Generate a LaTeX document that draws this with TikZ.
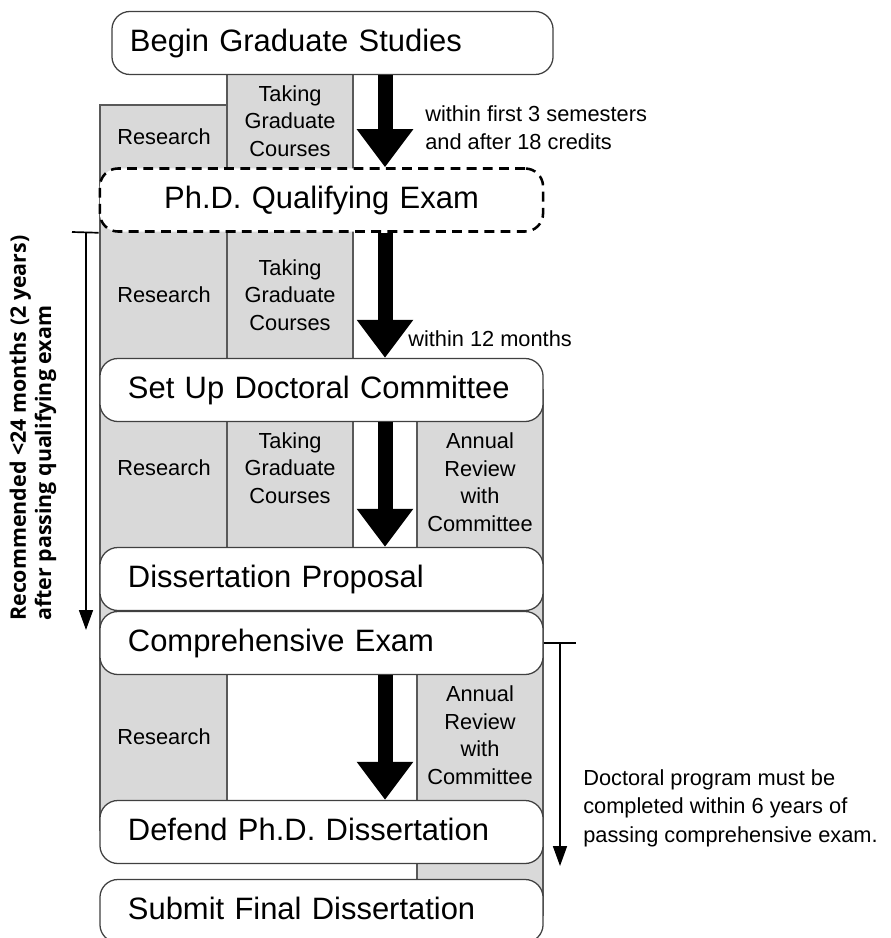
\documentclass[tikz,border=0pt]{standalone}
\usepackage{fontspec}
\setmainfont{Liberation Sans}
\newfontfamily\sidefont{Open Sans}
\usepackage{tikz}
\usetikzlibrary{calc, arrows.meta, positioning}

\definecolor{colfill}{gray}{0.85}
\definecolor{colline}{gray}{0.35}
\tikzset{
  stage/.style={draw=black!75, line width=0.9pt, fill=white, rounded corners=0.45cm,
    minimum height=1.575cm, text width=9.675cm, inner xsep=0.7cm, align=left,
    text height=16pt, text depth=4.5pt, font=\fontsize{22}{26}\selectfont},
  column/.style={fill=colfill, draw=colline, line width=0.8pt},
  task/.style={align=center, font=\fontsize{15.5}{19.6}\selectfont},
  note/.style={align=left, inner sep=0pt, font=\fontsize{15.5}{20.2}\selectfont},
  flow/.style={line width=0.375cm, -{Triangle[width=1.35cm, length=0.95cm]}},
  span/.style={line width=1.2pt, -{Triangle[width=0.35cm, length=0.5cm]}},
}

\begin{document}
\begin{tikzpicture}[x=0.025cm, y=-0.025cm]
         \useasboundingbox (0,0) rectangle (891,938);
         \clip (0,0) rectangle (891,938);
         % activity columns behind the stages
         \draw[column] (100,105) rectangle (227,830);
         \draw[column] (227,60) rectangle (353,580);
         \draw[column] (417,390) rectangle (543,915);
         \node[task] (res1) at (164,137) {Research};
         \node[task] (crs1) at (290,121) {Taking\\Graduate\\Courses};
         \node[task] (res2) at (164,295) {Research};
         \node[task] (crs2) at (290,295) {Taking\\Graduate\\Courses};
         \node[task] (res3) at (164,468) {Research};
         \node[task] (crs3) at (290,468) {Taking\\Graduate\\Courses};
         \node[task] (rev3) at (480,482) {Annual\\Review\\with\\Committee};
         \node[task] (res4) at (164,737) {Research};
         \node[task] (rev4) at (480,735) {Annual\\Review\\with\\Committee};
         % stages
         \node[stage, inner xsep=0.45cm, text width=10.125cm] (begin) at (332.5,43) {Begin Graduate Studies};
         \node[stage, draw=black, line width=1.8pt, align=center, dash pattern=on 7pt off 4.5pt] (qual) at (321.5,200) {Ph.D. Qualifying Exam};
         \node[stage] (setup) at (321.5,390) {Set Up Doctoral Committee};
         \node[stage] (prop) at (321.5,579) {Dissertation Proposal};
         \node[stage] (comp) at (321.5,643) {Comprehensive Exam};
         \node[stage] (defend) at (321.5,832) {Defend Ph.D. Dissertation};
         \node[stage] (submit) at (321.5,911) {Submit Final Dissertation};
         \coordinate (axis) at (385,0);
         \draw[flow] (begin.south -| axis) -- (qual.north -| axis);
         \draw[flow] (qual.south -| axis) -- (setup.north -| axis);
         \draw[flow] (setup.south -| axis) -- (prop.north -| axis);
         \draw[flow] (comp.south -| axis) -- (defend.north -| axis);
         \node[note, anchor=west] (cond1) at (425,128) {within first 3 semesters\\and after 18 credits};
         \node[note, anchor=west] (cond2) at (408,339) {within 12 months};
         % time limits
         \coordinate (qtick) at (72,232);
         \coordinate (qtop) at (86,232);
         \coordinate (qend) at (86,630);
         \draw[line width=1.2pt] (qtick) -- (qual.south west);
         \draw[span] (qtop) -- (qend);
         \node[rotate=90, anchor=west, align=left, inner sep=0pt,
               font=\sidefont\bfseries\fontsize{15.2}{18}\selectfont] (window) at (33,621)
               {Recommended <24 months (2 years)\\after passing qualifying exam};
         \coordinate (ctick) at (576,643);
         \coordinate (ctop) at (560,643);
         \coordinate (cend) at (560,866);
         \draw[line width=1.2pt] (comp.east) -- (ctick);
         \draw[span] (ctop) -- (cend);
         \node[note, anchor=west] (limit) at (583,808) {Doctoral program must be\\completed within 6 years of\\passing comprehensive exam.};
      \end{tikzpicture}
\end{document}
